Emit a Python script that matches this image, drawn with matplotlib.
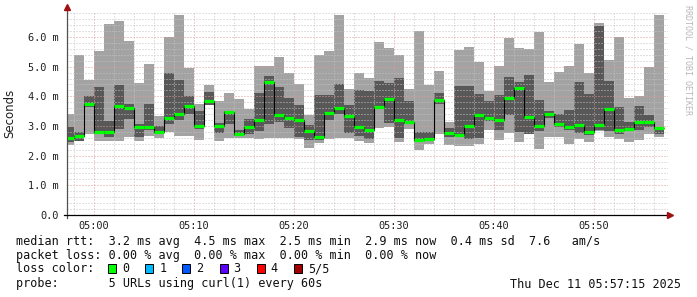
import numpy as np
import matplotlib
matplotlib.use("Agg")
import matplotlib.pyplot as plt
from matplotlib.patches import Rectangle

# Smoke ping data (ms), one column per minute, first column starts 04:57
light_top = [3.39, 5.38, 4.54, 5.52, 6.45, 6.53, 5.85, 4.45, 5.08, 3.33,
             6.00, 6.73, 4.94, 3.73, 4.37, 3.84, 4.10, 3.90, 3.56, 5.01,
             5.04, 5.31, 4.80, 4.40, 3.36, 5.38, 5.52, 6.73, 4.24, 4.80,
             4.61, 5.82, 5.62, 5.38, 4.24, 6.19, 4.37, 4.84, 3.12, 5.55,
             5.65, 5.15, 4.17, 5.04, 5.96, 5.62, 5.58, 6.16, 4.47, 4.81,
             5.01, 5.75, 4.78, 6.46, 5.21, 5.99, 3.93, 4.00, 4.98, 6.73]
dark_top = [2.97, 2.79, 4.00, 4.30, 3.16, 4.37, 3.75, 3.08, 3.73, 2.99,
            4.79, 4.54, 4.00, 3.49, 4.13, 3.10, 3.49, 2.85, 3.22, 4.10,
            4.69, 4.30, 3.93, 3.70, 3.02, 4.03, 4.03, 4.40, 3.70, 4.20,
            4.17, 4.51, 4.44, 4.61, 3.83, 2.79, 2.79, 4.10, 2.92, 4.34,
            4.34, 4.07, 3.83, 4.03, 4.64, 4.47, 4.71, 3.87, 3.49, 3.39,
            3.53, 4.47, 4.07, 6.36, 4.51, 3.63, 3.13, 3.66, 3.36, 2.94]
median = [2.60, 2.65, 3.75, 2.80, 2.80, 3.66, 3.60, 2.95, 2.95, 2.79,
          3.27, 3.40, 3.66, 3.01, 3.85, 2.99, 3.46, 2.74, 2.98, 3.20,
          4.48, 3.37, 3.28, 3.19, 2.84, 2.62, 3.43, 3.62, 3.35, 2.98,
          2.85, 3.64, 3.92, 3.21, 3.13, 2.52, 2.56, 3.89, 2.75, 2.69,
          3.00, 3.36, 3.28, 3.21, 3.93, 4.27, 3.30, 3.01, 3.39, 3.06,
          2.95, 3.02, 2.79, 3.04, 3.58, 2.87, 2.91, 3.12, 3.12, 2.92]
dark_bottom = [2.46, 2.49, 3.64, 2.74, 2.63, 2.89, 3.25, 2.63, 2.88, 2.72,
               3.08, 3.19, 3.42, 2.90, 3.71, 2.76, 3.06, 2.66, 2.74, 2.84,
               3.08, 3.13, 2.94, 2.63, 2.52, 2.54, 3.19, 3.39, 2.76, 2.65,
               2.56, 3.62, 3.10, 2.60, 3.06, 2.50, 2.54, 3.73, 2.63, 2.63,
               2.57, 2.60, 3.16, 2.87, 3.36, 2.80, 2.72, 2.82, 3.27, 2.97,
               2.85, 2.76, 2.70, 2.85, 2.83, 2.72, 2.85, 2.87, 2.97, 2.73]
light_bottom = [2.37, 2.49, 2.72, 2.49, 2.49, 2.49, 2.63, 2.49, 2.65, 2.58,
                2.80, 2.66, 2.66, 2.53, 3.71, 2.49, 2.60, 2.60, 2.60, 2.56,
                2.60, 2.60, 2.60, 2.56, 2.26, 2.43, 2.56, 2.60, 2.60, 2.49,
                2.43, 2.93, 2.97, 2.46, 2.90, 2.18, 2.39, 2.72, 2.36, 2.33,
                2.33, 2.39, 2.87, 2.53, 2.76, 2.46, 2.72, 2.22, 2.63, 2.63,
                2.39, 2.56, 2.46, 2.84, 2.63, 2.56, 2.45, 2.53, 2.73, 2.63]

y_ticks = [0, 1, 2, 3, 4, 5, 6]
y_labels = ["0.0", "1.0 m", "2.0 m", "3.0 m", "4.0 m", "5.0 m", "6.0 m"]
x_ticks = [2, 12, 22, 32, 42, 52]  # minutes after 04:58
x_labels = ["05:00", "05:10", "05:20", "05:30", "05:40", "05:50"]

loss_colors = ["#00ff00", "#00b8ff", "#0059ff", "#5e00ff", "#ff0000", "#a00000"]
loss_labels = ["0", "1", "2", "3", "4", "5/5"]

legend_rows = [
    "median rtt:  3.2 ms avg  4.5 ms max  2.5 ms min  2.9 ms now  0.4 ms sd  7.6   am/s",
    "packet loss: 0.00 % avg  0.00 % max  0.00 % min  0.00 % now",
    "loss color:",
    "probe:       5 URLs using curl(1) every 60s",
]
stamp = "Thu Dec 11 05:57:15 2025"

W, H = 697, 297
MONO = "DejaVu Sans Mono"

lt = np.array(light_top)
dt = np.array(dark_top)
md = np.array(median)
db = np.array(dark_bottom)
lb = np.array(light_bottom)
n = len(md)
edges = np.arange(n + 1) - 1.0
centers = edges[:-1] + 0.5

fig = plt.figure(figsize=(W / 100, H / 100), dpi=100)
ax = fig.add_axes([67 / W, 82 / H, 601 / W, 202 / H])

# smoke
ax.bar(centers, lt - lb, bottom=lb, width=1.0, color="#a3a3a3", linewidth=0, zorder=1)
ax.bar(centers, dt - db, bottom=db, width=1.0, color="#585858", linewidth=0, zorder=1.1)

# median: black step plus green loss-colour bar
ax.stairs(md, edges, color="black", linewidth=0.8, baseline=None, zorder=3)
ax.hlines(md, edges[:-1], edges[1:], color=loss_colors[0], linewidth=2.3, zorder=4)

ax.set_xlim(-0.65, 59.45)
ax.set_ylim(0, 6.81)

# grid (drawn over the smoke, like rrdtool)
ax.set_axisbelow(False)
ax.set_yticks(y_ticks)
ax.set_yticklabels(y_labels, family=MONO, fontsize=7.4, color="#202020")
ax.set_yticks(np.arange(0, 6.81, 0.2), minor=True)
ax.set_xticks(x_ticks)
ax.set_xticklabels(x_labels, family=MONO, fontsize=7.4, color="#202020")
ax.set_xticks(np.arange(0, 60, 2), minor=True)
ax.grid(which="minor", color="#c4c4c4", linestyle=(0, (1, 2)), linewidth=0.72, zorder=2)
ax.grid(which="major", color="#e09a9a", linestyle=(0, (1, 2)), linewidth=0.72, zorder=2.1)
ax.tick_params(which="both", length=0)
ax.tick_params(axis="y", pad=6)
ax.tick_params(axis="x", pad=4)

for s in ["top", "right", "left", "bottom"]:
    ax.spines[s].set_visible(False)

# axis lines with arrows
ax.plot([-0.65, -0.65], [-0.1, 7.0], color="#505050", linewidth=0.9, clip_on=False, zorder=5)
ax.plot([-1.0, 59.6], [0, 0], color="black", linewidth=0.9, clip_on=False, zorder=5)
ax.plot([-0.65], [7.0], marker="^", color="#a01010", markersize=4, clip_on=False, zorder=6)
ax.plot([59.6], [0], marker=">", color="#a01010", markersize=4, clip_on=False, zorder=6)

fig.text(10 / W, 1 - 113 / H, "Seconds", rotation=90, ha="center", va="center",
         fontsize=8.5, color="#202020")
fig.text(688 / W, 1 - 60 / H, "RRDTOOL / TOBI OETIKER", rotation=270, ha="center",
         va="center", family=MONO, fontsize=6, color="#b8b8b8")

# legend rows
row_y = [241, 255, 269, 284]
for txt, y in zip(legend_rows, row_y):
    fig.text(16 / W, 1 - y / H, txt, family=MONO, fontsize=8.5, va="center", color="#101010")
fig.text(681 / W, 1 - row_y[3] / H, stamp, family=MONO, fontsize=8.5, va="center",
         ha="right", color="#101010")

for i, (c, lab) in enumerate(zip(loss_colors, loss_labels)):
    x0 = 108 + 37.2 * i
    fig.add_artist(Rectangle((x0 / W, 1 - 273 / H), 8 / W, 9 / H, transform=fig.transFigure,
                             facecolor=c, edgecolor="black", linewidth=0.7))
    fig.text((x0 + 14) / W, 1 - row_y[2] / H, lab, family=MONO, fontsize=8.5, va="center",
             color="#101010")

fig.savefig("out.png", dpi=100)
